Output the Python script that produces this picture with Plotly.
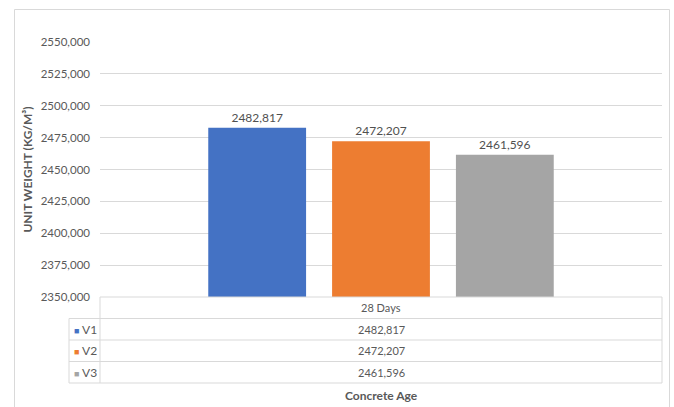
import plotly.graph_objects as go

categories = ["28 Days"]
series_names = ["V1", "V2", "V3"]
series_values = [[2482.817], [2472.207], [2461.596]]
colors = ["#4472C4", "#ED7D31", "#A5A5A5"]
y_title = "UNIT WEIGHT (KG/M³)"
x_title = "Concrete Age"

W, H = 674, 407
L, R, T, B = 100, 12, 42, 110
pw, ph = W - L - R, H - T - B

def px(x):
    return (x - L) / pw

def py(y):
    return (H - B - y) / ph

FONT = "Lato, Open Sans, sans-serif"
GRID = "#D9D9D9"
TXT = "#595959"

fig = go.Figure()
for name, vals, col in zip(series_names, series_values, colors):
    fig.add_trace(go.Bar(
        x=categories, y=vals, name=name, marker=dict(color=col, line=dict(width=0)),
        texttemplate="%{y:.3f}", textposition="outside",
        textfont=dict(color="#505050", size=12, family=FONT),
        cliponaxis=False, showlegend=False,
    ))

shapes = []
line = dict(color=GRID, width=1)
shapes.append(dict(type="rect", xref="paper", yref="paper",
                   x0=px(14.5), x1=px(669.5), y0=py(412), y1=py(9.5), line=dict(color=GRID, width=1)))
row_edges = [297, 318.5, 340, 361.5, 383]
tl, tc, tr = 69, 100, 662
shapes.append(dict(type="line", xref="paper", yref="paper", x0=px(tc), x1=px(tr), y0=py(297), y1=py(297), line=line))
for ry in row_edges[1:]:
    shapes.append(dict(type="line", xref="paper", yref="paper", x0=px(tl), x1=px(tr), y0=py(ry), y1=py(ry), line=line))
shapes.append(dict(type="line", xref="paper", yref="paper", x0=px(tl), x1=px(tl), y0=py(318.5), y1=py(383), line=line))
shapes.append(dict(type="line", xref="paper", yref="paper", x0=px(tc), x1=px(tc), y0=py(297), y1=py(383), line=line))
shapes.append(dict(type="line", xref="paper", yref="paper", x0=px(tr), x1=px(tr), y0=py(297), y1=py(383), line=line))

annotations = []
def cell_mid(i):
    return (row_edges[i] + row_edges[i + 1]) / 2

def ann(x, y, text, xanchor="center", size=11):
    return dict(x=x, y=y, xref="paper", yref="paper", xanchor=xanchor, yanchor="middle",
                text=text, showarrow=False, font=dict(size=size, color=TXT, family=FONT))

annotations.append(ann(px((tc + tr) / 2), py(cell_mid(0)), categories[0]))
for i, (name, vals, col) in enumerate(zip(series_names, series_values, colors)):
    ym = py(cell_mid(i + 1))
    annotations.append(ann(px(tl + 3), ym,
                           f"<span style='color:{col};font-size:9px'>■</span> {name}", xanchor="left", size=12))
    annotations.append(ann(px((tc + tr) / 2), ym, f"{vals[0]:.3f}".replace(".", ",")))
annotations.append(ann(px((tc + tr) / 2), py(395), f"<b>{x_title}</b>", size=12))

fig.update_layout(
    width=W, height=H,
    margin=dict(l=L, r=R, t=T, b=B, autoexpand=False),
    paper_bgcolor="white", plot_bgcolor="white",
    barmode="group", bargap=0.339, bargroupgap=0.21,
    separators=",.",
    font=dict(family=FONT, color=TXT, size=11),
    shapes=shapes, annotations=annotations,
    xaxis=dict(showticklabels=False, showgrid=False, zeroline=False, showline=False),
    yaxis=dict(range=[2350, 2550], dtick=25, tickformat=".3f", showgrid=True, gridcolor=GRID,
               gridwidth=1, zeroline=False, showline=False, ticks="", ticklabelstandoff=9,
               tickfont=dict(size=11.5, color=TXT, family=FONT),
               title=dict(text=f"<b>{y_title}</b>", standoff=5,
                          font=dict(size=12, color=TXT, family=FONT))),
)

fig.write_html("out.html")
